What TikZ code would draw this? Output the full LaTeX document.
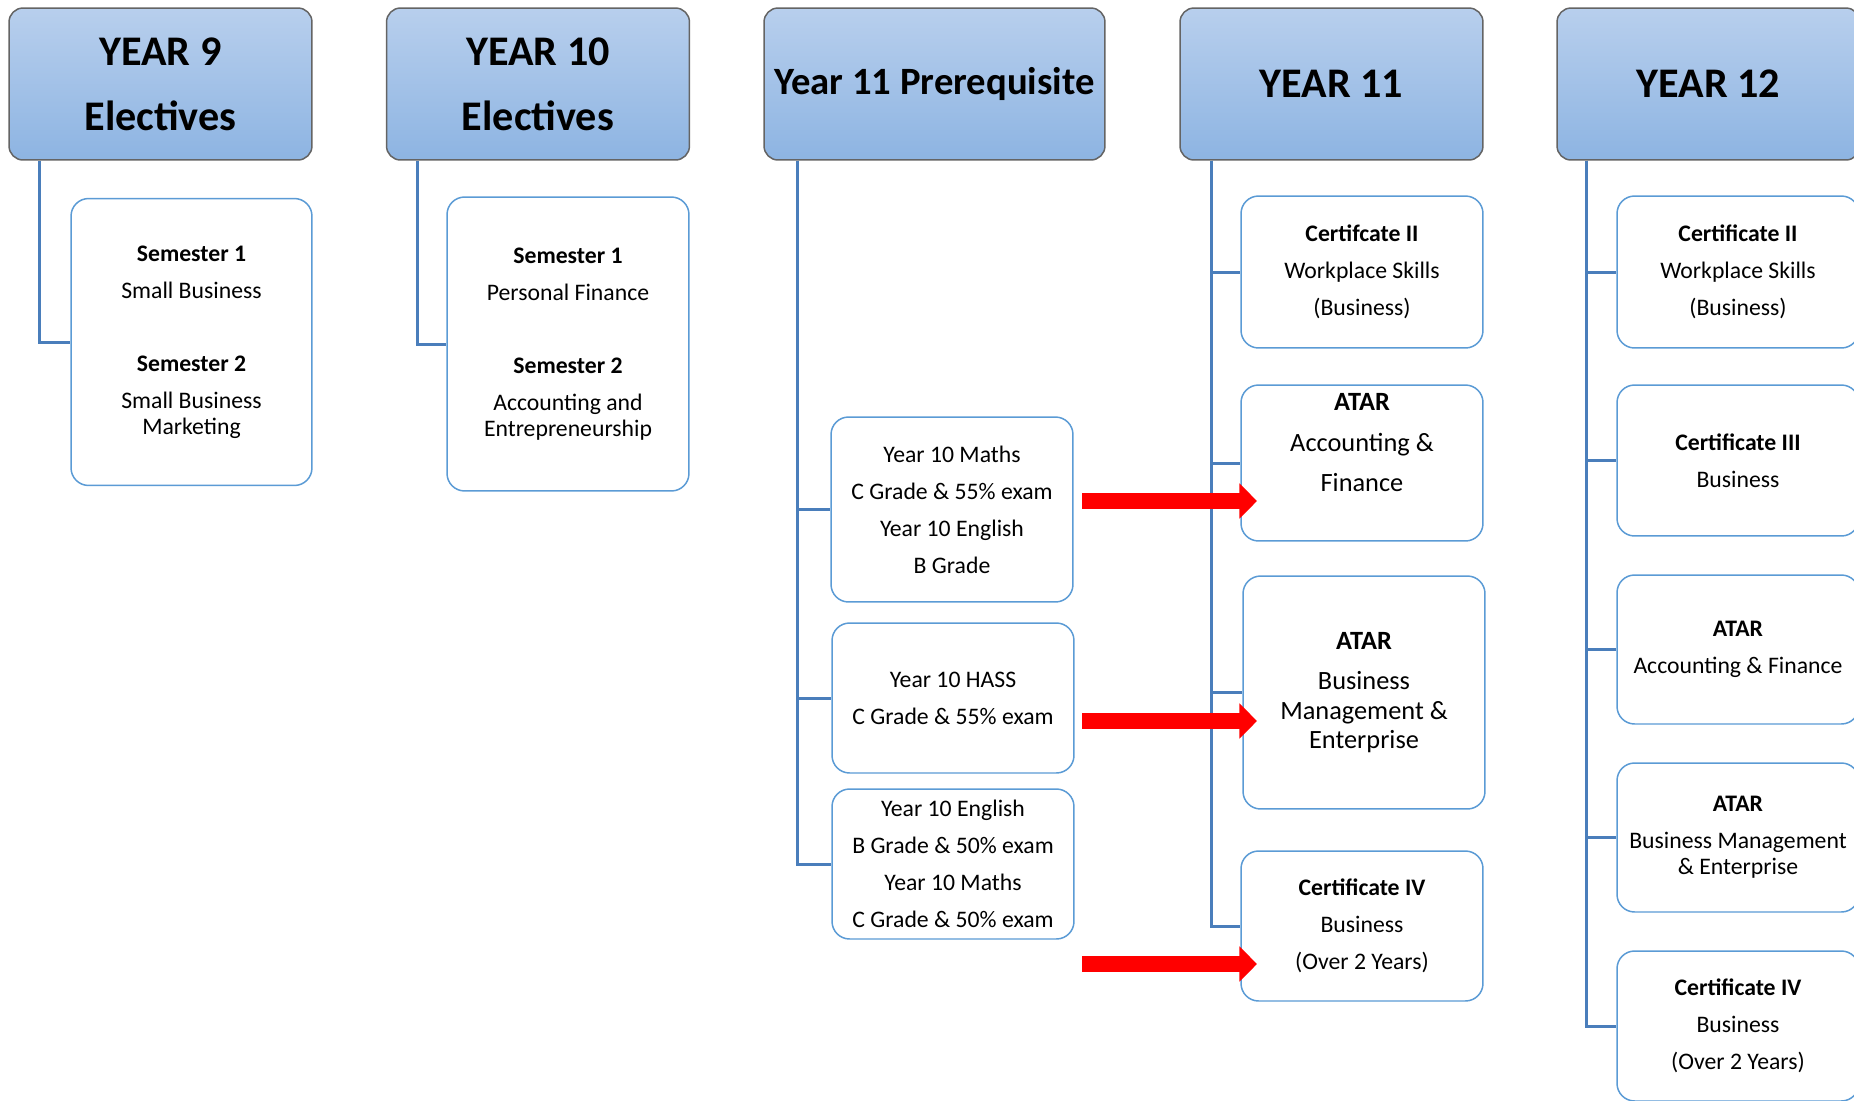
\documentclass[tikz,border=0pt]{standalone}
\usepackage{fontspec}
\setmainfont{Carlito}
\usetikzlibrary{arrows.meta,calc}
\definecolor{hdrtop}{RGB}{184,207,237}
\definecolor{hdrbot}{RGB}{141,180,226}
\definecolor{hdredge}{RGB}{100,100,100}
\definecolor{trunk}{RGB}{74,126,187}
\definecolor{boxedge}{RGB}{91,155,213}
\definecolor{arrowred}{RGB}{255,0,0}

\begin{document}
\begin{tikzpicture}[x=0.02cm,y=-0.02cm,
  header/.style={draw=hdredge, line width=0.85pt, rounded corners=8pt,
    top color=hdrtop, bottom color=hdrbot, minimum width=6.06cm,
    minimum height=3.04cm, inner sep=0pt, align=center,
    font=\fontsize{24}{37}\selectfont\bfseries},
  item/.style={draw=boxedge, line width=0.85pt, rounded corners=10pt,
    fill=white, minimum width=4.84cm, inner sep=0pt, align=center,
    font=\fontsize{13.5}{21}\selectfont},
  itembig/.style={item, font=\fontsize{15}{23.2}\selectfont},
  trunkline/.style={draw=trunk, line width=1.7pt},
  bigarrow/.style={draw=arrowred, line width=9pt,
    -{Triangle[width=19.5pt,length=10pt]}}
]
\useasboundingbox (0,0) rectangle (1854,1100);
\clip (0,0) rectangle (1854,1100);

% column headers
\node[header] (h9)  at (160.5,84) {YEAR 9\\Electives};
\node[header] (h10) at (538,84)   {YEAR 10\\Electives};
\node[header, minimum width=6.82cm, font=\fontsize{22}{30}\selectfont\bfseries]
  (hpre) at (934.5,84) {Year 11 Prerequisite};
\node[header] (h11) at (1331.5,84) {YEAR 11};
\node[header] (h12) at (1708.5,84) {YEAR 12};

% Year 9 and Year 10 electives
\node[item, minimum width=4.82cm, minimum height=5.74cm] (e9) at (191.5,342)
  {\textbf{Semester 1}\\Small Business\\[20.5pt]\textbf{Semester 2}\\Small Business\\[-6.3pt]Marketing};
\node[item, minimum height=5.88cm] (e10) at (568,344)
  {\textbf{Semester 1}\\Personal Finance\\[20.5pt]\textbf{Semester 2}\\Accounting and\\[-6.3pt]Entrepreneurship};

% prerequisites
\node[item, minimum height=3.7cm] (p1) at (952,509.5)
  {Year 10 Maths\\C Grade \& 55\% exam\\Year 10 English\\B Grade};
\node[item, minimum height=3.0cm] (p2) at (953,698)
  {Year 10 HASS\\C Grade \& 55\% exam};
\node[item, minimum height=3.0cm] (p3) at (953,864)
  {Year 10 English\\B Grade \& 50\% exam\\Year 10 Maths\\C Grade \& 50\% exam};

% Year 11 courses
\node[item, minimum height=3.04cm] (a1) at (1362,272)
  {\textbf{Certifcate II}\\Workplace Skills\\(Business)};
\node[itembig, minimum height=3.12cm] (a2) at (1362,463)
  {\textbf{ATAR}\\Accounting \&\\Finance\\[-7pt]\strut};
\node[itembig, minimum height=4.66cm] (a3) at (1364,692.5)
  {\textbf{ATAR}\\Business\\[-6.4pt]Management \&\\[-6.4pt]Enterprise};
\node[item, minimum height=3.0cm] (a4) at (1362,926)
  {\textbf{Certificate IV}\\Business\\(Over 2 Years)};

% Year 12 courses
\node[item, minimum height=3.04cm] (b1) at (1738,272)
  {\textbf{Certificate II}\\Workplace Skills\\(Business)};
\node[item, minimum height=3.02cm] (b2) at (1738,460.5)
  {\textbf{Certificate III}\\Business};
\node[item, minimum height=2.98cm] (b3) at (1738,649.5)
  {\textbf{ATAR}\\Accounting \& Finance};
\node[item, minimum height=2.98cm] (b4) at (1738,837.5)
  {\textbf{ATAR}\\Business Management\\[-6.3pt]\& Enterprise};
\node[item, minimum height=3.0cm] (b5) at (1738,1026)
  {\textbf{Certificate IV}\\Business\\(Over 2 Years)};

% trunk lines from each header
\coordinate (t9)   at ($(h9.south west)+(31,0)$);
\coordinate (t10)  at ($(h10.south west)+(32,0)$);
\coordinate (tpre) at ($(hpre.south west)+(34,0)$);
\coordinate (t11)  at ($(h11.south west)+(32,0)$);
\coordinate (t12)  at ($(h12.south west)+(30,0)$);

\draw[trunkline] (t9) |- (e9.west);
\draw[trunkline] (t10) |- (e10.west);
\foreach \n in {p1,p2,p3} \draw[trunkline] (tpre) |- (\n.west);
\foreach \n in {a1,a2,a3,a4} \draw[trunkline] (t11) |- (\n.west);
\foreach \n in {b1,b2,b3,b4,b5} \draw[trunkline] (t12) |- (\n.west);

% prerequisite arrows
\coordinate (r1s) at (1082,501);
\coordinate (r1e) at (1257,501);
\coordinate (r2s) at (1082,721);
\coordinate (r2e) at (1257,721);
\coordinate (r3s) at (1082,964);
\coordinate (r3e) at (1257,964);
\draw[bigarrow] (r1s) -- (r1e);
\draw[bigarrow] (r2s) -- (r2e);
\draw[bigarrow] (r3s) -- (r3e);
\end{tikzpicture}
\end{document}
